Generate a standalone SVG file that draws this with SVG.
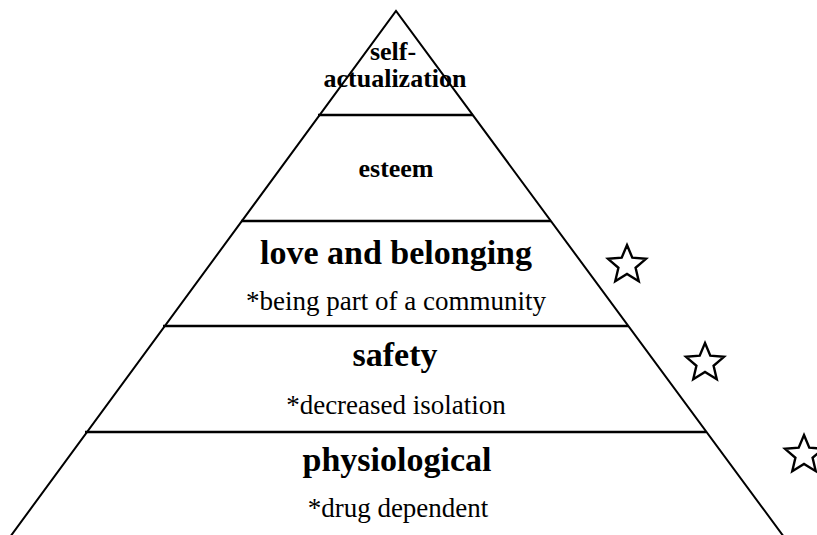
<svg xmlns="http://www.w3.org/2000/svg" xmlns:xlink="http://www.w3.org/1999/xlink" width="817" height="535" viewBox="0 0 817 535">
  <defs>
    <style>
      .edge { fill: none; stroke: #000; stroke-width: 2; stroke-linejoin: miter; }
      .div { stroke: #000; stroke-width: 2.6; }
      .title { font-family: "Liberation Serif", "Times New Roman", serif; font-weight: bold; fill: #000; text-anchor: middle; }
      .big { font-size: 34px; }
      .small { font-size: 26px; }
      .note { font-family: "Liberation Serif", "Times New Roman", serif; font-size: 27px; fill: #000; text-anchor: middle; }
      .star { fill: #fff; stroke: #000; stroke-width: 2.4; stroke-linejoin: miter; }
    </style>
    <polygon id="star" points="0,-20 5.3,-7.3 19.02,-6.18 8.58,2.79 11.76,16.18 0,9 -11.76,16.18 -8.58,2.79 -19.02,-6.18 -5.3,-7.3"/>
  </defs>
  <rect width="817" height="535" fill="#fff"/>

  <!-- pyramid outline and tier dividers -->
  <g id="connectors">
    <path class="edge" d="M10,537 L396,11 L784,537"/>
    <line class="div" x1="318" y1="115" x2="473" y2="115"/>
    <line class="div" x1="241" y1="221" x2="551" y2="221"/>
    <line class="div" x1="163" y1="326" x2="628" y2="326"/>
    <line class="div" x1="85" y1="432" x2="706" y2="432"/>
  </g>

  <g id="tier-self-actualization">
    <text class="title small" x="393" y="60">self-</text>
    <text class="title small" x="395" y="87">actualization</text>
  </g>

  <g id="tier-esteem">
    <text class="title small" x="396" y="177">esteem</text>
  </g>

  <g id="tier-love">
    <text class="title big" x="396" y="264">love and belonging</text>
    <text class="note" x="396" y="310">*being part of a community</text>
  </g>

  <g id="tier-safety">
    <text class="title big" x="395" y="366">safety</text>
    <text class="note" x="396" y="414">*decreased isolation</text>
  </g>

  <g id="tier-physiological">
    <text class="title big" x="397" y="471">physiological</text>
    <text class="note" x="398" y="517">*drug dependent</text>
  </g>

  <g id="star-love">
    <use xlink:href="#star" class="star" transform="translate(627,265)"/>
  </g>
  <g id="star-safety">
    <use xlink:href="#star" class="star" transform="translate(705,363)"/>
  </g>
  <g id="star-physiological">
    <use xlink:href="#star" class="star" transform="translate(804,455)"/>
  </g>
</svg>
